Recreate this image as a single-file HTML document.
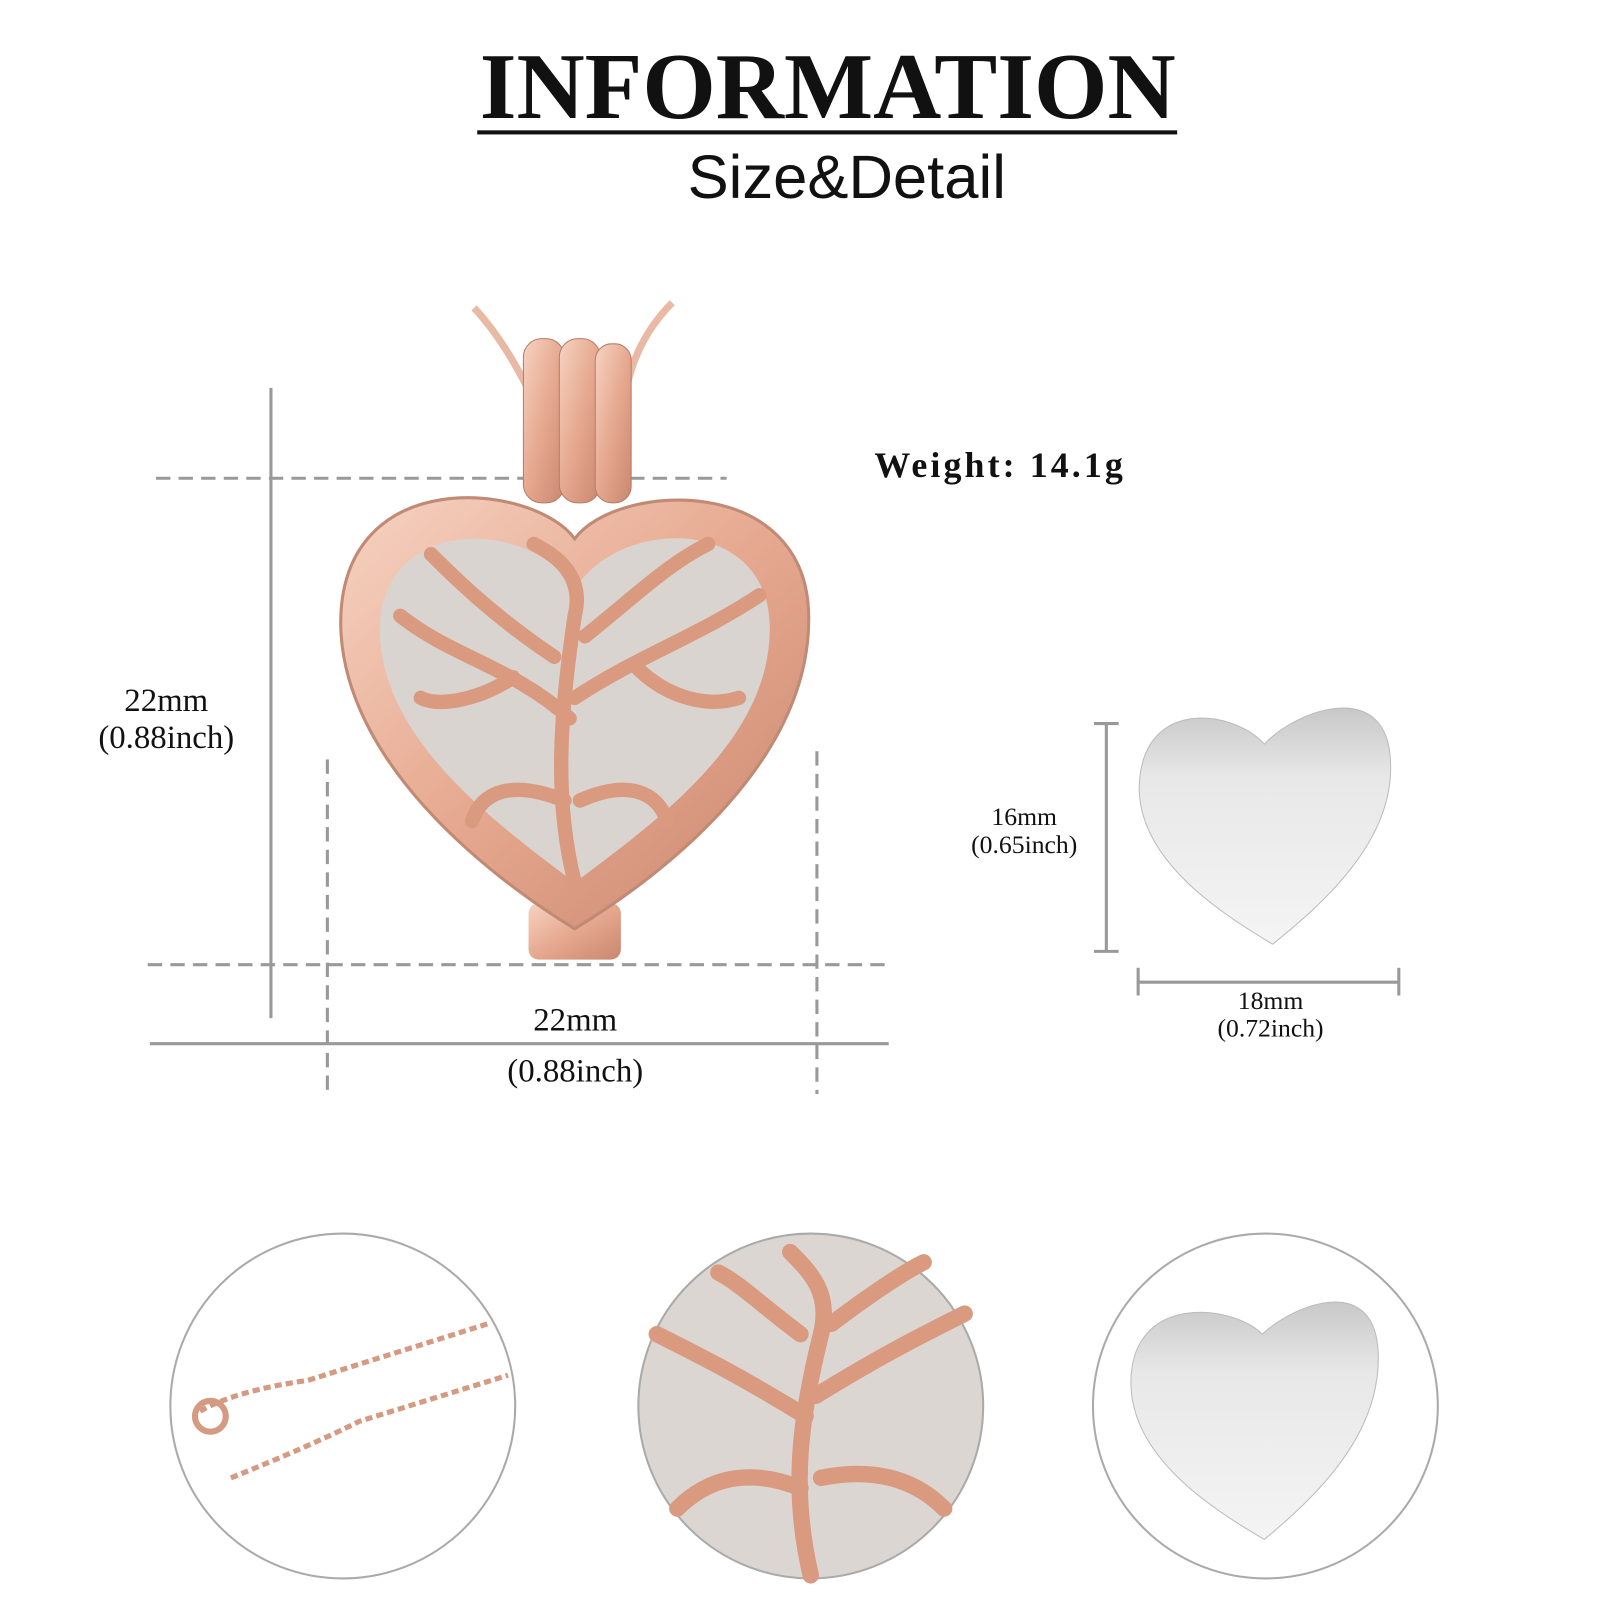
<!DOCTYPE html>
<html><head><meta charset="utf-8"><style>
html,body{margin:0;padding:0;background:#fff;width:1601px;height:1601px;overflow:hidden}
#w{position:absolute;left:0;top:0;width:1560px;height:1560px;transform:scale(1.02628);transform-origin:0 0}
.t{position:absolute;white-space:nowrap;color:#111}
.s{font-family:"Liberation Serif",serif}
</style></head><body><div id="w">
<div class="t s" style="left:465px;top:34px;font-size:92px;font-weight:bold;letter-spacing:0px;width:683px;text-align:center;line-height:100px">INFORMATION</div>
<div style="position:absolute;left:465px;top:127px;width:682px;height:4px;background:#111"></div>
<div class="t" style="left:670px;top:136px;font-family:'Liberation Sans',sans-serif;font-size:60px;line-height:74px">Size&amp;Detail</div>
<div class="t s" style="left:852px;top:434px;font-size:35px;font-weight:bold;letter-spacing:3px">Weight: 14.1g</div>
<div class="t s" style="left:72px;top:664px;font-size:32px;width:180px;text-align:center;line-height:36px">22mm<br>(0.88inch)</div>
<div class="t s" style="left:468px;top:968px;font-size:32px;width:185px;text-align:center;line-height:50px">22mm<br>(0.88inch)</div>
<div class="t s" style="left:928px;top:783px;font-size:25px;width:140px;text-align:center;line-height:27px">16mm<br>(0.65inch)</div>
<div class="t s" style="left:1163px;top:962px;font-size:25px;width:150px;text-align:center;line-height:27px">18mm<br>(0.72inch)</div>
<svg width="1560" height="1560" style="position:absolute;left:0;top:0">
<defs>
<linearGradient id="rg" x1="0" y1="0" x2="1" y2="1"><stop offset="0" stop-color="#f6d3c2"/><stop offset=".5" stop-color="#e6a88f"/><stop offset="1" stop-color="#c98770"/></linearGradient>
<linearGradient id="sg" x1="0" y1="0" x2="0" y2="1"><stop offset="0" stop-color="#c8c8c8"/><stop offset=".3" stop-color="#e8e8e8"/><stop offset="1" stop-color="#f4f4f4"/></linearGradient>
</defs>
<g stroke="#999" stroke-width="3" fill="none">
<line x1="264" y1="378" x2="264" y2="992"/>
<line x1="146" y1="1017" x2="866" y2="1017"/>
<line x1="1078" y1="705" x2="1078" y2="927"/><line x1="1066" y1="705" x2="1090" y2="705"/><line x1="1066" y1="927" x2="1090" y2="927"/>
<line x1="1109" y1="957" x2="1363" y2="957"/><line x1="1109" y1="943" x2="1109" y2="970"/><line x1="1363" y1="943" x2="1363" y2="970"/>
</g>
<g stroke="#999" stroke-width="3" fill="none" stroke-dasharray="14 8">
<line x1="152" y1="466" x2="708" y2="466"/>
<line x1="144" y1="940" x2="866" y2="940"/>
<line x1="319" y1="740" x2="319" y2="1062"/>
<line x1="796" y1="732" x2="796" y2="1066"/>
</g>
<path d="M462 300 Q490 330 515 380 M655 295 Q620 330 610 380" stroke="#e8b9a5" stroke-width="7" fill="none"/>
<rect x="510" y="330" width="40" height="160" rx="18" fill="url(#rg)" stroke="#b97b66"/>
<rect x="545" y="330" width="40" height="160" rx="18" fill="url(#rg)" stroke="#b97b66"/>
<rect x="580" y="335" width="35" height="155" rx="16" fill="url(#rg)" stroke="#b97b66"/>
<rect x="515" y="880" width="90" height="55" rx="10" fill="url(#rg)"/>
<path d="M560 525 C520 470 330 450 332 610 C335 740 470 850 560 905 C650 850 790 740 788 600 C786 460 600 470 560 525Z" fill="url(#rg)" stroke="#c08a75" stroke-width="3"/>
<path d="M560 575 C520 505 370 500 370 615 C372 720 480 800 560 860 C640 800 752 720 750 610 C748 500 600 505 560 575Z" fill="#d9d4d0"/>
<g stroke="#d99a80" stroke-width="14" fill="none" stroke-linecap="round">
<path d="M560 860 C540 780 545 700 560 600 C570 560 540 540 520 530"/>
<path d="M555 700 C500 650 440 640 390 600"/><path d="M560 680 C620 640 680 620 740 580"/>
<path d="M540 640 C480 600 440 560 420 540"/><path d="M570 620 C620 580 650 550 690 530"/>
<path d="M550 780 C500 760 470 770 460 800"/><path d="M565 780 C610 760 640 770 650 800"/>
<path d="M500 660 C470 680 430 690 410 680"/><path d="M620 650 C650 680 690 690 720 680"/>
</g>
<path d="M1232 725 C1200 690 1110 680 1110 770 C1112 840 1190 890 1240 920 C1290 880 1357 820 1355 745 C1354 660 1265 690 1232 725Z" fill="url(#sg)" stroke="#bbb"/>
<circle cx="334" cy="1370" r="168" fill="none" stroke="#aaa" stroke-width="2"/>
<path d="M195 1375 Q230 1355 300 1345 L475 1290 M225 1440 Q300 1410 350 1385 L495 1340" stroke="#d49a82" stroke-width="5" fill="none" stroke-dasharray="7 4"/>
<circle cx="205" cy="1380" r="15" fill="none" stroke="#d49a82" stroke-width="6"/>
<circle cx="790" cy="1370" r="168" fill="#dcd6d2" stroke="#aaa" stroke-width="2"/>
<g stroke="#d99a80" stroke-width="16" fill="none" stroke-linecap="round">
<path d="M790 1535 C770 1450 780 1380 800 1300 C810 1260 790 1240 770 1220"/>
<path d="M785 1380 C720 1340 680 1320 640 1300"/><path d="M795 1360 C860 1320 900 1300 940 1280"/>
<path d="M780 1300 C740 1270 720 1250 700 1240"/><path d="M810 1290 C850 1260 880 1240 900 1230"/>
<path d="M780 1450 C730 1430 690 1440 660 1470"/><path d="M800 1440 C850 1430 890 1440 920 1470"/>
</g>
<circle cx="1233" cy="1370" r="168" fill="none" stroke="#aaa" stroke-width="2"/>
<path d="M1230 1300 C1200 1270 1100 1260 1102 1350 C1104 1420 1180 1470 1232 1500 C1280 1460 1345 1400 1343 1320 C1341 1240 1262 1270 1230 1300Z" fill="url(#sg)" stroke="#bbb"/>
</svg>
</div></body></html>
